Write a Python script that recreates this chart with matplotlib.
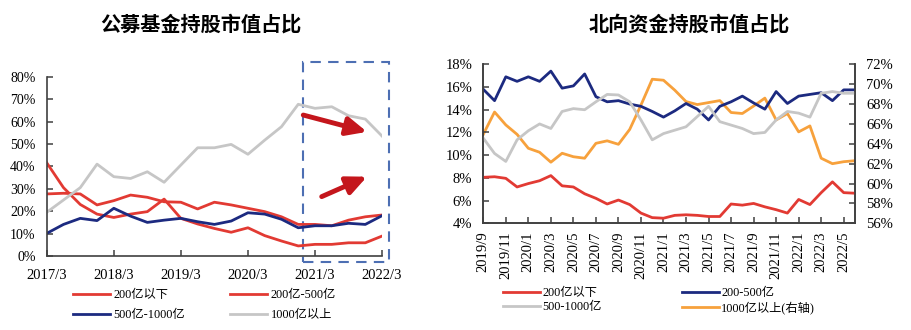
import matplotlib.pyplot as plt
from matplotlib.patches import Rectangle

plt.rcParams['font.family'] = ['Liberation Serif', 'Noto Sans CJK SC']

# ---------- left chart data: 公募基金 (quarterly, 2017/3 - 2022/3) ----------
q_ticklabels = ['2017/3', '2018/3', '2019/3', '2020/3', '2021/3', '2022/3']
fund_below200 = [41.6, 30.5, 23.0, 18.7, 17.2, 18.7, 19.8, 25.4, 16.8, 14.3, 12.3,
                 10.6, 12.6, 9.1, 6.7, 4.5, 5.2, 5.2, 5.9, 5.9, 8.9]
fund_200_500 = [27.7, 28.0, 27.7, 22.8, 24.7, 27.2, 26.2, 24.2, 24.0, 21.0, 24.0,
                22.8, 21.3, 19.8, 17.5, 14.1, 14.1, 13.5, 16.0, 17.5, 18.3]
fund_500_1000 = [10.1, 14.1, 16.8, 15.8, 21.3, 17.8, 15.0, 16.0, 16.8, 15.3, 14.1,
                 15.6, 19.3, 18.7, 16.4, 12.6, 13.5, 13.5, 14.6, 14.1, 18.0]
fund_above1000 = [19.5, 25.0, 30.5, 41.0, 35.4, 34.6, 37.6, 32.9, 40.6, 48.3, 48.3,
                  49.8, 45.4, 51.7, 57.7, 67.7, 65.9, 66.6, 62.6, 61.1, 53.5]

# ---------- right chart data: 北向资金 (monthly, 2019/9 - 2022/6) ----------
m_ticklabels = ['2019/9', '2019/11', '2020/1', '2020/3', '2020/5', '2020/7', '2020/9',
                '2020/11', '2021/1', '2021/3', '2021/5', '2021/7', '2021/9', '2021/11',
                '2022/1', '2022/3', '2022/5']
nb_below200 = [8.05, 8.1, 7.96, 7.2, 7.5, 7.75, 8.2, 7.3, 7.2, 6.6, 6.2, 5.7, 6.05,
               5.65, 4.9, 4.5, 4.45, 4.7, 4.75, 4.7, 4.6, 4.6, 5.7, 5.6, 5.75, 5.45,
               5.2, 4.9, 6.1, 5.65, 6.7, 7.65, 6.7, 6.65]
nb_200_500 = [15.8, 14.8, 16.9, 16.5, 16.9, 16.5, 17.4, 15.9, 16.1, 17.15, 15.15,
              14.7, 14.8, 14.5, 14.3, 13.85, 13.35, 13.9, 14.55, 14.05, 13.1, 14.3,
              14.7, 15.2, 14.6, 14.05, 15.6, 14.55, 15.2, 15.35, 15.5, 14.8, 15.75, 15.75]
nb_500_1000 = [11.5, 10.15, 9.45, 11.35, 12.15, 12.75, 12.35, 13.85, 14.1, 14.0,
               14.7, 15.35, 15.3, 14.7, 13.1, 11.35, 11.9, 12.2, 12.5, 13.4, 14.3,
               12.95, 12.65, 12.35, 11.9, 12.0, 13.1, 13.85, 13.7, 13.35, 15.45,
               15.6, 15.45, 15.45]
nb_above1000 = [64.95, 67.2, 65.9, 64.95, 63.55, 63.15, 62.15, 63.05, 62.7, 62.55,
                64.05, 64.3, 63.95, 65.45, 67.9, 70.5, 70.4, 69.4, 68.25, 67.95,
                68.15, 68.35, 67.15, 67.05, 67.8, 68.6, 66.4, 67.05, 65.2, 65.8,
                62.55, 62.0, 62.2, 62.3]

RED = '#e23a33'
BLUE = '#1c2a80'
GRAY = '#c6c6c6'
ORANGE = '#f7a13c'
SPINE = '#404040'
LW = 2.0

fig = plt.figure(figsize=(9.11, 3.30), dpi=100)

# ================= left chart =================
ax1 = fig.add_axes([0.0513, 0.2242, 0.3681, 0.5433])
xq = list(range(len(fund_below200)))
l1, = ax1.plot(xq, fund_below200, color=RED, lw=LW, label='200亿以下')
l2, = ax1.plot(xq, fund_200_500, color=RED, lw=LW, label='200亿-500亿')
l3, = ax1.plot(xq, fund_500_1000, color=BLUE, lw=LW, label='500亿-1000亿')
l4, = ax1.plot(xq, fund_above1000, color=GRAY, lw=LW, label='1000亿以上')
ax1.set_xlim(0, 20)
ax1.set_ylim(0, 80)
ax1.set_xticks(range(0, 21, 4))
ax1.set_xticklabels(q_ticklabels)
ax1.set_yticks(range(0, 81, 10))
ax1.set_yticklabels([f'{v}%' for v in range(0, 81, 10)])
for s in ['top', 'right']:
    ax1.spines[s].set_visible(False)
for s in ['left', 'bottom']:
    ax1.spines[s].set_color(SPINE)
    ax1.spines[s].set_linewidth(1.2)
ax1.tick_params(direction='in', length=4, width=1.1, color=SPINE)
ax1.tick_params(axis='x', labelsize=10.5, pad=9)
ax1.tick_params(axis='y', labelsize=10, pad=8)

# highlight box + arrows
ax1.add_patch(Rectangle((15.3, -2.7), 5.1, 89.2, fill=False, edgecolor='#4d6fb3',
                        lw=1.5, ls=(0, (5, 3.5)), clip_on=False))
arrow_kw = dict(arrowstyle='-|>,head_length=1.2,head_width=0.55', color='#c4161c',
                lw=3.5, shrinkA=0, shrinkB=0)
ax1.annotate('', xy=(19.1, 55.4), xytext=(15.3, 62.9), arrowprops=arrow_kw,
             annotation_clip=False)
ax1.annotate('', xy=(19.1, 35.4), xytext=(16.4, 26.5), arrowprops=arrow_kw,
             annotation_clip=False)

ax1.legend(handles=[l1, l3, l2, l4], ncol=2, loc='upper left',
           bbox_to_anchor=(73 / 911, 1 - 289 / 330), bbox_transform=fig.transFigure,
           frameon=False, fontsize=8.8, handlelength=3.0, handletextpad=0.3,
           columnspacing=3.7, labelspacing=0.65, borderaxespad=0, borderpad=0)

fig.text(201 / 911, 1 - 24 / 330, '公募基金持股市值占比', ha='center', va='center',
         fontsize=14.5, fontweight='bold', family='Noto Sans CJK SC')

# ================= right chart =================
ax2 = fig.add_axes([0.5305, 0.3233, 0.4080, 0.4818])
ax2r = ax2.twinx()
xm = list(range(len(nb_below200)))
r1, = ax2.plot(xm, nb_below200, color=RED, lw=LW, label='200亿以下')
r2, = ax2.plot(xm, nb_200_500, color=BLUE, lw=LW, label='200-500亿')
r3, = ax2.plot(xm, nb_500_1000, color=GRAY, lw=LW, label='500-1000亿')
r4, = ax2r.plot(xm, nb_above1000, color=ORANGE, lw=LW, label='1000亿以上(右轴)')
ax2.set_zorder(ax2r.get_zorder() + 1)
ax2.patch.set_visible(False)
ax2.set_xlim(0, 33)
ax2.set_ylim(4, 18)
ax2r.set_ylim(56, 72)
ax2.set_xticks(range(0, 33, 2))
ax2.set_xticklabels(m_ticklabels, rotation=90)
ax2.set_yticks(range(4, 19, 2))
ax2.set_yticklabels([f'{v}%' for v in range(4, 19, 2)])
ax2r.set_yticks(range(56, 73, 2))
ax2r.set_yticklabels([f'{v}%' for v in range(56, 73, 2)])
for a in (ax2, ax2r):
    a.spines['top'].set_visible(False)
    for s in ['left', 'right', 'bottom']:
        a.spines[s].set_color(SPINE)
        a.spines[s].set_linewidth(1.2)
    a.tick_params(direction='in', length=4, width=1.1, color=SPINE, labelsize=10.5, pad=8)
ax2.tick_params(axis='x', pad=6)

ax2.legend(handles=[r1, r3, r2, r4], ncol=2, loc='upper left',
           bbox_to_anchor=(503 / 911, 1 - 287 / 330), bbox_transform=fig.transFigure,
           frameon=False, fontsize=8.8, handlelength=3.0, handletextpad=0.2,
           columnspacing=6.6, labelspacing=0.2, borderaxespad=0, borderpad=0)

fig.text(689 / 911, 1 - 24 / 330, '北向资金持股市值占比', ha='center', va='center',
         fontsize=14.5, fontweight='bold', family='Noto Sans CJK SC')

fig.savefig('out.png', dpi=100)
